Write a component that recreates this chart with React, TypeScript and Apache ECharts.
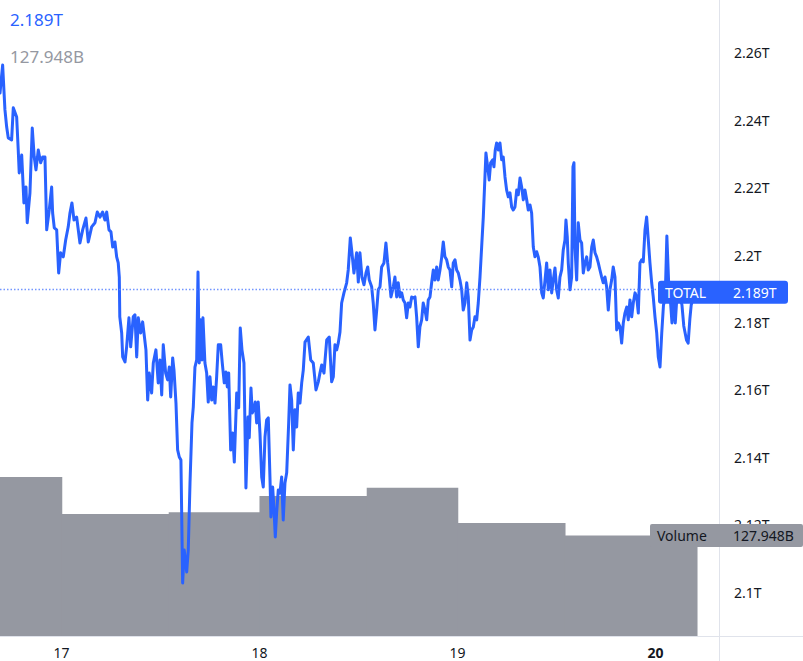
import React, { useEffect, useRef } from "react";
import * as echarts from "echarts";

// Time in hours from day 17 00:00
const hours = [
  -7.45,-7.13,-6.85,-6.64,-6.45,-6.04,-5.84,-5.43,-5.24,-5.12,
  -4.82,-4.55,-4.30,-4.15,-3.82,-3.54,-3.30,-3.09,-2.81,-2.52,
  -2.28,-2.00,-1.79,-1.48,-1.19,-1.07,-0.87,-0.58,-0.34,-0.10,
  0.22,0.51,0.82,1.03,1.27,1.52,1.84,2.24,2.57,2.97,
  3.25,3.66,4.06,4.34,4.67,4.99,5.27,5.48,5.76,6.00,
  6.21,6.48,6.69,6.88,7.01,7.07,7.30,7.42,7.70,7.90,
  8.18,8.39,8.70,8.91,9.12,9.31,9.60,9.84,10.00,10.24,
  10.45,10.64,10.93,11.13,11.45,11.73,11.94,12.15,12.34,12.63,
  12.87,13.07,13.24,13.48,13.64,13.88,14.08,14.28,14.48,14.69,
  14.88,15.18,15.37,15.58,15.82,15.98,16.18,16.39,16.55,16.70,
  16.87,17.03,17.15,17.39,17.60,17.79,18.00,18.21,18.40,18.61,
  18.81,19.01,19.30,19.49,19.73,19.94,20.10,20.27,20.51,20.75,
  20.95,21.24,21.48,21.67,21.88,22.12,22.36,22.61,22.76,22.97,
  23.13,23.30,23.49,23.66,23.85,24.06,24.27,24.46,24.67,24.87,
  25.07,25.27,25.39,25.60,25.76,25.92,26.08,26.28,26.48,26.69,
  26.88,27.09,27.30,27.54,27.70,27.90,28.10,28.30,28.51,28.70,
  28.91,29.12,29.31,29.52,29.92,30.21,30.52,30.85,31.13,31.33,
  31.54,31.82,32.15,32.46,32.75,32.95,33.15,33.36,33.55,33.76,
  33.96,34.24,34.57,34.76,35.01,35.21,35.45,35.78,35.98,36.18,
  36.42,36.67,36.91,37.12,37.31,37.60,37.79,38.00,38.21,38.40,
  38.61,38.81,39.09,39.33,39.54,39.73,39.94,40.22,40.42,40.63,
  40.82,41.03,41.24,41.43,41.64,41.84,42.04,42.24,42.45,42.64,
  42.85,43.05,43.25,43.45,43.66,43.85,44.06,44.27,44.46,44.67,
  44.87,45.07,45.27,45.48,45.67,45.88,46.08,46.28,46.48,46.69,
  46.88,47.09,47.30,47.49,47.70,47.90,48.10,48.30,48.51,48.70,
  48.91,49.12,49.31,49.52,49.72,49.92,50.12,50.33,50.52,50.73,
  50.93,51.13,51.33,51.45,51.66,51.85,52.02,52.27,52.42,52.58,
  52.75,52.95,53.15,53.36,53.55,53.76,53.96,54.16,54.36,54.57,
  54.76,54.97,55.18,55.37,55.58,55.78,55.98,56.18,56.39,56.58,
  56.79,56.99,57.19,57.39,57.60,57.79,58.00,58.21,58.40,58.61,
  58.81,59.01,59.21,59.42,59.61,59.82,60.02,60.22,60.42,60.63,
  60.82,61.03,61.15,61.31,61.43,61.64,61.84,62.00,62.12,62.24,
  62.45,62.64,62.85,63.05,63.25,63.45,63.66,63.85,64.06,64.27,
  64.46,64.67,64.87,65.07,65.27,65.48,65.67,65.88,66.08,66.28,
  66.48,66.69,66.88,67.09,67.30,67.49,67.70,67.90,68.10,68.30,
  68.51,68.70,68.91,69.12,69.31,69.52,69.72,69.92,70.12,70.33,
  70.52,70.73,70.93,71.13,71.33,71.54,71.73,71.94,72.15,72.34,
  72.55,72.76,72.97,73.18,73.38,73.59,73.79,74.00,74.19,74.40,
  74.61,74.93,75.21,75.43,75.76,75.96,76.17,76.33,76.57,76.86,
  77.15,77.39,
];

// TOTAL crypto market cap, trillions USD
const totalCap = [
  2.2481,2.2564,2.2431,2.2380,2.2348,2.2342,2.2437,2.2410,2.2312,2.2244,
  2.2297,2.2155,2.2202,2.2096,2.2185,2.2377,2.2291,2.2253,2.2312,2.2274,
  2.2291,2.2291,2.2075,2.2134,2.2202,2.2125,2.2081,2.2075,2.1947,2.2007,
  2.1995,2.2045,2.2084,2.2125,2.2155,2.2104,2.2113,2.2036,2.2075,2.2110,
  2.2039,2.2084,2.2096,2.2128,2.2113,2.2128,2.2104,2.2128,2.2075,2.2069,
  2.2024,2.2039,2.1995,2.1977,2.1935,2.1817,2.1769,2.1698,2.1683,2.1728,
  2.1814,2.1728,2.1817,2.1823,2.1698,2.1814,2.1769,2.1802,2.1769,2.1719,
  2.1570,2.1650,2.1591,2.1680,2.1719,2.1621,2.1689,2.1585,2.1734,2.1650,
  2.1630,2.1668,2.1579,2.1695,2.1659,2.1561,2.1422,2.1401,2.1392,2.1027,
  2.1125,2.1060,2.1125,2.1324,2.1502,2.1550,2.1668,2.1689,2.1950,2.1680,
  2.1808,2.1689,2.1814,2.1680,2.1650,2.1564,2.1639,2.1570,2.1609,2.1561,
  2.1639,2.1734,2.1734,2.1680,2.1621,2.1653,2.1609,2.1650,2.1422,2.1472,
  2.1386,2.1591,2.1547,2.1784,2.1719,2.1680,2.1309,2.1520,2.1458,2.1606,
  2.1532,2.1541,2.1564,2.1502,2.1564,2.1472,2.1342,2.1312,2.1461,2.1511,
  2.1517,2.1342,2.1223,2.1312,2.1244,2.1164,2.1235,2.1303,2.1294,2.1342,
  2.1214,2.1324,2.1354,2.1502,2.1615,2.1570,2.1422,2.1541,2.1490,2.1591,
  2.1561,2.1621,2.1659,2.1742,2.1757,2.1689,2.1680,2.1600,2.1624,2.1650,
  2.1674,2.1650,2.1748,2.1757,2.1624,2.1639,2.1734,2.1719,2.1739,2.1772,
  2.1858,2.1888,2.1918,2.1956,2.2051,2.2007,2.1947,2.2007,2.1920,2.2007,
  2.1935,2.1912,2.1947,2.1965,2.1926,2.1906,2.1858,2.1778,2.1837,2.1897,
  2.1906,2.1965,2.1977,2.2036,2.1977,2.1935,2.1876,2.1906,2.1935,2.1876,
  2.1918,2.1876,2.1888,2.1867,2.1858,2.1814,2.1858,2.1846,2.1876,2.1873,
  2.1876,2.1817,2.1728,2.1787,2.1808,2.1858,2.1837,2.1808,2.1867,2.1876,
  2.1918,2.1956,2.1926,2.1965,2.1926,2.1956,2.1992,2.2039,2.1995,2.1986,
  2.1965,2.1956,2.1906,2.1977,2.1986,2.1956,2.1947,2.1926,2.1897,2.1837,
  2.1858,2.1918,2.1876,2.1748,2.1778,2.1787,2.1817,2.1808,2.1858,2.1935,
  2.2024,2.2113,2.2232,2.2303,2.2262,2.2223,2.2274,2.2283,2.2262,2.2312,
  2.2333,2.2312,2.2333,2.2283,2.2291,2.2232,2.2193,2.2173,2.2185,2.2143,
  2.2134,2.2143,2.2193,2.2179,2.2229,2.2202,2.2164,2.2193,2.2164,2.2134,
  2.2149,2.2125,2.2024,2.1995,2.2010,2.1995,2.1965,2.1888,2.1873,2.1926,
  2.1977,2.1897,2.1956,2.1888,2.1926,2.1962,2.1897,2.1873,2.1935,2.1956,
  2.2015,2.2045,2.2104,2.2054,2.1977,2.1897,2.1935,2.2262,2.2274,2.2024,
  2.1926,2.2096,2.2045,2.2036,2.1947,2.1977,2.1995,2.1956,2.1965,2.2024,
  2.2045,2.2007,2.1995,2.1977,2.1956,2.1935,2.1918,2.1935,2.1906,2.1837,
  2.1897,2.1926,2.1965,2.1935,2.1778,2.1799,2.1787,2.1739,2.1799,2.1828,
  2.1846,2.1808,2.1867,2.1817,2.1858,2.1888,2.1876,2.1828,2.1977,2.1986,
  2.1980,2.2075,2.2113,2.2045,2.1977,2.1918,2.1876,2.1817,2.1769,2.1698,
  2.1668,2.1769,2.1852,2.1873,2.2057,2.1923,2.1873,2.1799,2.1873,2.1799,
  2.1882,2.1882,2.1852,2.1790,2.1748,2.1739,2.1811,2.1852,2.1873,2.1897,
  2.1912,2.189,
];

// Volume bars (hours from day 17 00:00), billions USD
const volStart = [-11, 0, 13, 24, 37, 48, 61];
const volEnd = [0, 13, 24, 37, 48, 61, 77];
const volume = [202.3, 155.2, 157.4, 178.1, 188.6, 143.7, 127.948];

const priceTicks = [2.1, 2.12, 2.14, 2.16, 2.18, 2.2, 2.22, 2.24, 2.26];
const dayTicks = [0, 24, 48, 72];
const dayLabels = ["17", "18", "19", "20"];

const FONT = "'Noto Sans', sans-serif";
const BLUE = "#2962ff";
const GREY = "#9598a1";
const TEXT = "#131722";

export default function App() {
  const ref = useRef<HTMLDivElement>(null);

  useEffect(() => {
    if (!ref.current) return;
    const chart = echarts.init(ref.current, undefined, { renderer: "svg" });
    const lastPrice = totalCap[totalCap.length - 1];
    const lastVol = volume[volume.length - 1];

    chart.setOption({
      animation: false,
      backgroundColor: "#ffffff",
      grid: { left: 0, top: 0, width: 719, height: 636, containLabel: false },
      xAxis: {
        type: "value",
        min: -7.45,
        max: 79.7,
        axisLine: { show: false },
        axisTick: { show: false },
        splitLine: { show: false },
        axisLabel: {
          customValues: dayTicks,
          margin: 9,
          color: TEXT,
          fontSize: 14,
          fontFamily: FONT,
          formatter: (v: number) => {
            const i = dayTicks.indexOf(Math.round(v));
            const s = i >= 0 ? dayLabels[i] : "";
            return i === 3 ? "{b|" + s + "}" : s;
          },
          rich: { b: { fontWeight: "bold", fontSize: 14, fontFamily: FONT, color: TEXT } },
        },
      },
      yAxis: [
        {
          type: "value",
          position: "right",
          min: 2.087,
          max: 2.2757,
          splitNumber: 9,
          axisLine: { show: false },
          axisTick: { show: false },
          splitLine: { show: false },
          axisLabel: {
            customValues: priceTicks,
            margin: 15,
            color: TEXT,
            fontSize: 14,
            fontFamily: FONT,
            formatter: (v: number) => parseFloat(v.toFixed(2)) + "T",
          },
        },
        { type: "value", min: 0, max: 809, show: false },
      ],
      series: [
        {
          type: "custom",
          yAxisIndex: 1,
          z: 1,
          clip: true,
          silent: true,
          data: volume.map((v, i) => [volStart[i], volEnd[i], v]),
          encode: { x: [0, 1], y: 2 },
          renderItem: (params: any, api: any) => {
            const s = api.coord([api.value(0), api.value(2)]);
            const e = api.coord([api.value(1), 0]);
            return {
              type: "rect",
              shape: { x: s[0], y: s[1], width: e[0] - s[0] + 0.8, height: e[1] - s[1] },
              style: { fill: GREY, stroke: "none", lineWidth: 0 },
            };
          },
        },
        {
          type: "line",
          z: 3,
          color: BLUE,
          showSymbol: false,
          symbol: "none",
          silent: true,
          data: hours.map((h, i) => [h, totalCap[i]]),
          lineStyle: { color: BLUE, width: 3, cap: "round", join: "round" },
          markLine: {
            silent: true,
            symbol: ["none", "none"],
            label: { show: false },
            itemStyle: { color: "#5b84ff" },
            lineStyle: { color: "#5b84ff", type: [1.5, 2], width: 1.3, opacity: 0.85 },
            data: [{ yAxis: lastPrice }],
          },
        },
      ],
    });

    const yP = chart.convertToPixel({ yAxisIndex: 0 }, lastPrice) as number;
    const yV = chart.convertToPixel({ yAxisIndex: 1 }, lastVol) as number;
    const txt = (x: number, y: number, text: string, fill: string, size = 14) => ({
      type: "text",
      x,
      y,
      z: 100,
      style: { text, fill, fontSize: size, fontFamily: FONT, verticalAlign: "middle", align: "left" },
    });

    chart.setOption({
      graphic: [
        { type: "line", z: 50, shape: { x1: 719.5, y1: 0, x2: 719.5, y2: 661 }, style: { stroke: "#e0e3eb", lineWidth: 1 } },
        { type: "line", z: 50, shape: { x1: 0, y1: 636.5, x2: 803, y2: 636.5 }, style: { stroke: "#e0e3eb", lineWidth: 1 } },
        { type: "rect", z: 99, shape: { x: 650, y: yV - 11.5, width: 153, height: 23, r: 2 }, style: { fill: GREY } },
        txt(657, yV, "Volume", TEXT),
        txt(733, yV, lastVol.toFixed(3) + "B", TEXT),
        { type: "rect", z: 99, shape: { x: 658, y: yP - 11.5, width: 130, height: 23, r: 3 }, style: { fill: BLUE } },
        txt(665, yP, "TOTAL", "#ffffff"),
        txt(733, yP, lastPrice.toFixed(3) + "T", "#ffffff"),
        txt(10, 19.5, lastPrice.toFixed(3) + "T", BLUE, 17),
        txt(10, 56, lastVol.toFixed(3) + "B", GREY, 17),
      ],
    });

    return () => chart.dispose();
  }, []);

  return (
    <div
      ref={ref}
      style={{ position: "absolute", left: 0, top: 0, width: 803, height: 661, background: "#ffffff" }}
    />
  );
}
